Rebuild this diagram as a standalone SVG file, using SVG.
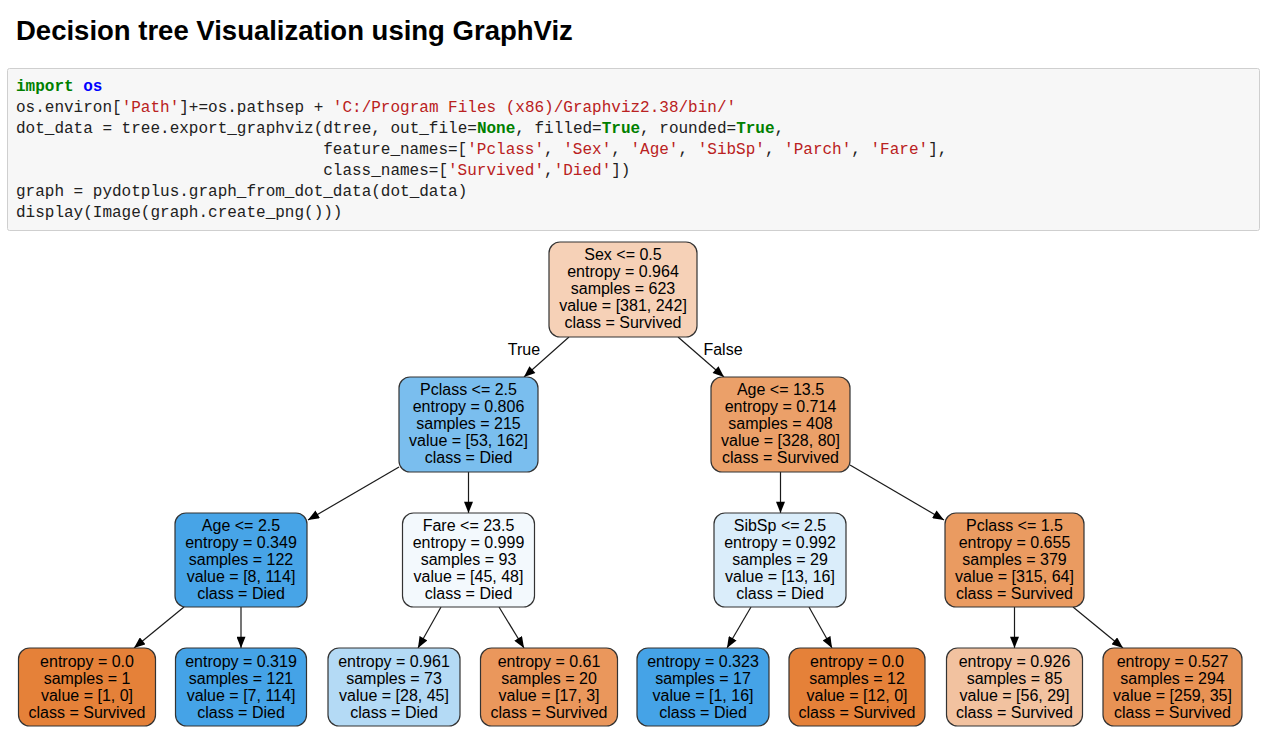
<svg xmlns="http://www.w3.org/2000/svg" width="1268" height="745" viewBox="0 0 1268 745">
<style>
.title{font-family:"Liberation Sans",Arial,sans-serif;font-weight:bold;font-size:27.5px;fill:#000}
.code{font-family:"Liberation Mono","DejaVu Sans Mono",monospace;font-size:16px;fill:#212121;white-space:pre}
.kw{fill:#008000;font-weight:bold}
.nm{fill:#0000ff;font-weight:bold}
.st{fill:#ba2121}
.nb{stroke:#333;stroke-width:1.2}
.nt{font-family:"Liberation Sans",Arial,sans-serif;font-size:16px;fill:#000;text-anchor:middle}
.edge{stroke:#1a1a1a;stroke-width:1.2;fill:none;marker-end:url(#arr)}
.lbl{font-family:"Liberation Sans",Arial,sans-serif;font-size:16px;fill:#000;text-anchor:middle}
</style>
<defs>
<marker id="arr" viewBox="0 0 10 8" refX="10" refY="4" markerWidth="12" markerHeight="9" markerUnits="userSpaceOnUse" orient="auto">
<path d="M0,0 L10,4 L0,8 z" fill="#000"/>
</marker>
</defs>
<rect width="1268" height="745" fill="#fff"/>
<text class="title" x="16" y="40">Decision tree Visualization using GraphViz</text>
<g id="code">
<rect x="7.5" y="68.5" width="1252" height="162" rx="2" fill="#f7f7f7" stroke="#cfcfcf"/>
<text class="code" x="16" y="91"><tspan class="kw">import</tspan> <tspan class="nm">os</tspan></text>
<text class="code" x="16" y="112">os.environ[<tspan class="st">'Path'</tspan>]+=os.pathsep + <tspan class="st">'C:/Program Files (x86)/Graphviz2.38/bin/'</tspan></text>
<text class="code" x="16" y="133">dot_data = tree.export_graphviz(dtree, out_file=<tspan class="kw">None</tspan>, filled=<tspan class="kw">True</tspan>, rounded=<tspan class="kw">True</tspan>,</text>
<text class="code" x="323.2" y="154">feature_names=[<tspan class="st">'Pclass'</tspan>, <tspan class="st">'Sex'</tspan>, <tspan class="st">'Age'</tspan>, <tspan class="st">'SibSp'</tspan>, <tspan class="st">'Parch'</tspan>, <tspan class="st">'Fare'</tspan>],</text>
<text class="code" x="323.2" y="175">class_names=[<tspan class="st">'Survived'</tspan>,<tspan class="st">'Died'</tspan>])</text>
<text class="code" x="16" y="196">graph = pydotplus.graph_from_dot_data(dot_data)</text>
<text class="code" x="16" y="217">display(Image(graph.create_png()))</text>
</g>
<g id="edges">
<line class="edge" x1="569" y1="337" x2="524" y2="377"/>
<line class="edge" x1="678" y1="337" x2="724" y2="377"/>
<line class="edge" x1="399" y1="467" x2="308" y2="520"/>
<line class="edge" x1="468.5" y1="472" x2="468.5" y2="513"/>
<line class="edge" x1="780.5" y1="472" x2="780.5" y2="513"/>
<line class="edge" x1="850" y1="465" x2="944" y2="520"/>
<line class="edge" x1="184" y1="607" x2="134" y2="648"/>
<line class="edge" x1="241" y1="607" x2="241" y2="648"/>
<line class="edge" x1="441" y1="607" x2="418" y2="648"/>
<line class="edge" x1="499" y1="607" x2="524" y2="648"/>
<line class="edge" x1="751" y1="607" x2="727" y2="648"/>
<line class="edge" x1="809" y1="607" x2="832" y2="648"/>
<line class="edge" x1="1014.5" y1="607" x2="1014.5" y2="648"/>
<line class="edge" x1="1073" y1="607" x2="1123" y2="648"/>
<text class="lbl" x="524" y="354.5">True</text>
<text class="lbl" x="723" y="354.5">False</text>
</g>
<g id="n0">
<rect class="nb" x="549" y="242" width="148" height="95" rx="11" fill="#f6d1b7"/>
<text class="nt" x="623" y="260">Sex &lt;= 0.5</text>
<text class="nt" x="623" y="277">entropy = 0.964</text>
<text class="nt" x="623" y="294">samples = 623</text>
<text class="nt" x="623" y="311">value = [381, 242]</text>
<text class="nt" x="623" y="328">class = Survived</text>
</g>
<g id="n1">
<rect class="nb" x="399" y="377" width="139" height="95" rx="11" fill="#7abeee"/>
<text class="nt" x="468.5" y="395">Pclass &lt;= 2.5</text>
<text class="nt" x="468.5" y="412">entropy = 0.806</text>
<text class="nt" x="468.5" y="429">samples = 215</text>
<text class="nt" x="468.5" y="446">value = [53, 162]</text>
<text class="nt" x="468.5" y="463">class = Died</text>
</g>
<g id="n2">
<rect class="nb" x="711" y="377" width="139" height="95" rx="11" fill="#eba069"/>
<text class="nt" x="780.5" y="395">Age &lt;= 13.5</text>
<text class="nt" x="780.5" y="412">entropy = 0.714</text>
<text class="nt" x="780.5" y="429">samples = 408</text>
<text class="nt" x="780.5" y="446">value = [328, 80]</text>
<text class="nt" x="780.5" y="463">class = Survived</text>
</g>
<g id="n3">
<rect class="nb" x="175" y="513" width="132" height="94" rx="11" fill="#47a4e7"/>
<text class="nt" x="241" y="530.5">Age &lt;= 2.5</text>
<text class="nt" x="241" y="547.5">entropy = 0.349</text>
<text class="nt" x="241" y="564.5">samples = 122</text>
<text class="nt" x="241" y="581.5">value = [8, 114]</text>
<text class="nt" x="241" y="598.5">class = Died</text>
</g>
<g id="n4">
<rect class="nb" x="402.5" y="513" width="132" height="94" rx="11" fill="#f3f9fd"/>
<text class="nt" x="468.5" y="530.5">Fare &lt;= 23.5</text>
<text class="nt" x="468.5" y="547.5">entropy = 0.999</text>
<text class="nt" x="468.5" y="564.5">samples = 93</text>
<text class="nt" x="468.5" y="581.5">value = [45, 48]</text>
<text class="nt" x="468.5" y="598.5">class = Died</text>
</g>
<g id="n5">
<rect class="nb" x="714" y="513" width="132" height="94" rx="11" fill="#daedfa"/>
<text class="nt" x="780" y="530.5">SibSp &lt;= 2.5</text>
<text class="nt" x="780" y="547.5">entropy = 0.992</text>
<text class="nt" x="780" y="564.5">samples = 29</text>
<text class="nt" x="780" y="581.5">value = [13, 16]</text>
<text class="nt" x="780" y="598.5">class = Died</text>
</g>
<g id="n6">
<rect class="nb" x="945" y="513" width="139" height="94" rx="11" fill="#ea9b61"/>
<text class="nt" x="1014.5" y="530.5">Pclass &lt;= 1.5</text>
<text class="nt" x="1014.5" y="547.5">entropy = 0.655</text>
<text class="nt" x="1014.5" y="564.5">samples = 379</text>
<text class="nt" x="1014.5" y="581.5">value = [315, 64]</text>
<text class="nt" x="1014.5" y="598.5">class = Survived</text>
</g>
<g id="n7">
<rect class="nb" x="18.5" y="648" width="137" height="78" rx="11" fill="#e58139"/>
<text class="nt" x="87" y="666.5">entropy = 0.0</text>
<text class="nt" x="87" y="683.5">samples = 1</text>
<text class="nt" x="87" y="700.5">value = [1, 0]</text>
<text class="nt" x="87" y="717.5">class = Survived</text>
</g>
<g id="n8">
<rect class="nb" x="175.5" y="648" width="131" height="78" rx="11" fill="#45a3e7"/>
<text class="nt" x="241" y="666.5">entropy = 0.319</text>
<text class="nt" x="241" y="683.5">samples = 121</text>
<text class="nt" x="241" y="700.5">value = [7, 114]</text>
<text class="nt" x="241" y="717.5">class = Died</text>
</g>
<g id="n9">
<rect class="nb" x="328" y="648" width="132" height="78" rx="11" fill="#b4daf5"/>
<text class="nt" x="394" y="666.5">entropy = 0.961</text>
<text class="nt" x="394" y="683.5">samples = 73</text>
<text class="nt" x="394" y="700.5">value = [28, 45]</text>
<text class="nt" x="394" y="717.5">class = Died</text>
</g>
<g id="n10">
<rect class="nb" x="480.5" y="648" width="137" height="78" rx="11" fill="#ea975c"/>
<text class="nt" x="549" y="666.5">entropy = 0.61</text>
<text class="nt" x="549" y="683.5">samples = 20</text>
<text class="nt" x="549" y="700.5">value = [17, 3]</text>
<text class="nt" x="549" y="717.5">class = Survived</text>
</g>
<g id="n11">
<rect class="nb" x="637" y="648" width="132" height="78" rx="11" fill="#45a3e7"/>
<text class="nt" x="703" y="666.5">entropy = 0.323</text>
<text class="nt" x="703" y="683.5">samples = 17</text>
<text class="nt" x="703" y="700.5">value = [1, 16]</text>
<text class="nt" x="703" y="717.5">class = Died</text>
</g>
<g id="n12">
<rect class="nb" x="789" y="648" width="136" height="78" rx="11" fill="#e58139"/>
<text class="nt" x="857" y="666.5">entropy = 0.0</text>
<text class="nt" x="857" y="683.5">samples = 12</text>
<text class="nt" x="857" y="700.5">value = [12, 0]</text>
<text class="nt" x="857" y="717.5">class = Survived</text>
</g>
<g id="n13">
<rect class="nb" x="946.5" y="648" width="136" height="78" rx="11" fill="#f2c2a0"/>
<text class="nt" x="1014.5" y="666.5">entropy = 0.926</text>
<text class="nt" x="1014.5" y="683.5">samples = 85</text>
<text class="nt" x="1014.5" y="700.5">value = [56, 29]</text>
<text class="nt" x="1014.5" y="717.5">class = Survived</text>
</g>
<g id="n14">
<rect class="nb" x="1103" y="648" width="139" height="78" rx="11" fill="#e89254"/>
<text class="nt" x="1172.5" y="666.5">entropy = 0.527</text>
<text class="nt" x="1172.5" y="683.5">samples = 294</text>
<text class="nt" x="1172.5" y="700.5">value = [259, 35]</text>
<text class="nt" x="1172.5" y="717.5">class = Survived</text>
</g>
</svg>
